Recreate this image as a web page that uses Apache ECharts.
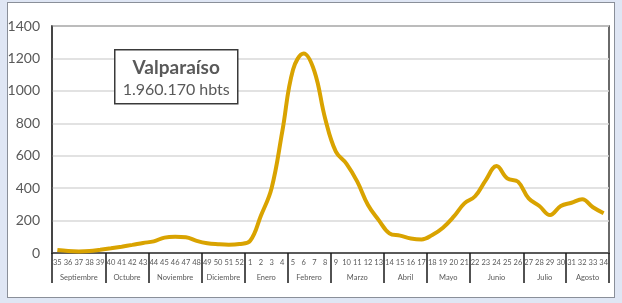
<!DOCTYPE html>
<html>
<head>
<meta charset="utf-8">
<script src="https://cdn.jsdelivr.net/npm/echarts@6/dist/echarts.min.js"></script>
<style>
    html, body { margin: 0; padding: 0; }
    #wrap { position: relative; width: 622px; height: 303px; background: #dfe6f4; }
    #panel { position: absolute; left: 7px; top: 2px; width: 606px; height: 294px; background: #fff; border: 1px solid #8a8f99; }
    #chart { position: absolute; left: 0; top: 0; width: 622px; height: 303px; }
</style>
</head>
<body>
<div id="wrap">
    <div id="panel"></div>
    <div id="chart"></div>
</div>
<script>
// semanas epidemiológicas (35 a 52, luego 1 a 34)
const weeks = ['35', '36', '37', '38', '39', '40', '41', '42', '43', '44', '45', '46', '47', '48',
    '49', '50', '51', '52', '1', '2', '3', '4', '5', '6', '7', '8', '9', '10', '11', '12', '13',
    '14', '15', '16', '17', '18', '19', '20', '21', '22', '23', '24', '25', '26', '27', '28', '29', '30',
    '31', '32', '33', '34'];

// casos por semana
const cases = [18, 12, 10, 12, 20, 29, 39, 50, 62, 72, 95, 100, 97, 75,
    60, 54, 51, 55, 75, 230, 400, 750, 1130, 1230, 1120, 830, 625, 550, 440, 296, 203,
    121, 107, 90, 84, 111, 156, 224, 306, 350, 450, 536, 460, 440, 337, 290, 234, 290,
    310, 331, 282, 245];

// meses y cuántas semanas abarca cada uno
const months = ['Septiembre', 'Octubre', 'Noviembre', 'Diciembre', 'Enero', 'Febrero', 'Marzo',
    'Abril', 'Mayo', 'Junio', 'Julio', 'Agosto'];
const monthWeeks = [5, 4, 5, 4, 4, 4, 5, 4, 4, 5, 4, 4];

const yTicks = { min: 0, max: 1400, step: 200 };

// límites y centros de cada mes sobre el eje
const bounds = [0];
const mids = [];
monthWeeks.forEach(n => {
    const start = bounds[bounds.length - 1];
    mids.push(start + n / 2);
    bounds.push(start + n);
});

const chart = echarts.init(document.getElementById('chart'));
const gray = '#595959';

const option = {
    animation: false,
    grid: {
        left: 52, right: 13, top: 26, bottom: 50,
        show: true,
        borderColor: '#3a3a3a',
        borderWidth: 1.5
    },
    xAxis: [
        {
            type: 'category',
            data: weeks,
            boundaryGap: true,
            axisLine: { lineStyle: { color: '#3a3a3a', width: 1.5 } },
            axisTick: { show: false },
            axisLabel: { interval: 0, fontSize: 7.5, color: gray, margin: 6, fontFamily: 'Lato' }
        },
        {
            type: 'value',
            position: 'bottom',
            min: 0,
            max: weeks.length,
            axisLine: { show: false },
            splitLine: { show: false },
            axisTick: {
                show: true,
                length: 30,
                customValues: bounds,
                lineStyle: { color: '#1a1a1a', width: 1.5 }
            },
            axisLabel: {
                customValues: mids,
                margin: 21,
                fontSize: 7.5,
                color: gray,
                fontFamily: 'Lato',
                formatter: function(v) {
                    const i = mids.findIndex(m => Math.abs(m - v) < 0.01);
                    return i >= 0 ? months[i] : '';
                }
            }
        }
    ],
    yAxis: {
        type: 'value',
        min: yTicks.min,
        max: yTicks.max,
        interval: yTicks.step,
        axisLine: { show: true, lineStyle: { color: '#3a3a3a', width: 1.5 } },
        axisTick: { show: false },
        axisLabel: {
            fontSize: 14, color: gray, margin: 12, fontFamily: 'Lato',
            formatter: v => String(v)
        },
        splitLine: { lineStyle: { color: '#d9d9d9', width: 1.5 } }
    },
    graphic: [
        {
            type: 'group',
            left: 114,
            top: 49,
            z: 100,
            children: [
                {
                    type: 'rect',
                    z: 100,
                    shape: { x: 0, y: 0, width: 123, height: 54 },
                    style: { fill: '#fff', stroke: '#3a3a3a', lineWidth: 1.5 }
                },
                {
                    type: 'text',
                    z: 101,
                    x: 61.5, y: 18,
                    style: {
                        text: 'Valparaíso', fill: gray, font: 'bold 19px Lato',
                        align: 'center', verticalAlign: 'middle'
                    }
                },
                {
                    type: 'text',
                    z: 101,
                    x: 61.5, y: 40,
                    style: {
                        text: '1.960.170 hbts', fill: gray, font: '16px Lato',
                        align: 'center', verticalAlign: 'middle'
                    }
                }
            ]
        }
    ],
    series: [
        {
            name: 'Valparaíso',
            type: 'line',
            xAxisIndex: 0,
            smooth: 0.4,
            showSymbol: false,
            data: cases,
            lineStyle: { color: '#D9A300', width: 4 },
            itemStyle: { color: '#D9A300' }
        }
    ]
};

chart.setOption(option);
</script>
</body>
</html>
